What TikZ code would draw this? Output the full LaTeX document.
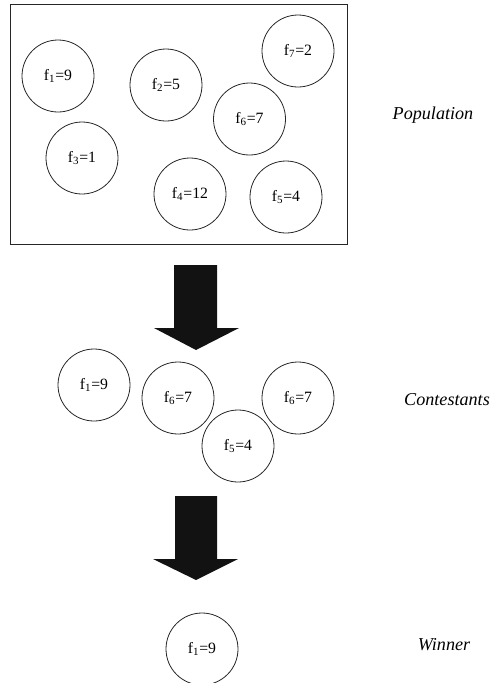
\documentclass[tikz,border=0pt]{standalone}
\usepackage{fontspec}
\setmainfont{Liberation Serif}
\begin{document}
\begin{tikzpicture}[x=0.75pt,y=-0.75pt,
  indiv/.style={circle,draw=black!85,line width=0.6pt,minimum size=54pt,inner sep=0pt,font=\fontsize{11.8}{14}\selectfont},
  stage/.style={font=\fontsize{13.6}{16}\selectfont\itshape},
  bigarrow/.style={fill=black!93,draw=none}]
\useasboundingbox (0,0) rectangle (492,683);
\clip (0,0) rectangle (492,683);
% population box
\draw[line width=0.6pt,draw=black!85] (10,4) rectangle (347,244);
\node[indiv] (p1) at (58,76) {f\textsubscript{1}=9};
\node[indiv] (p2) at (166,85) {f\textsubscript{2}=5};
\node[indiv] (p7) at (298,51) {f\textsubscript{7}=2};
\node[indiv] (p6) at (249.5,119) {f\textsubscript{6}=7};
\node[indiv] (p3) at (82,158) {f\textsubscript{3}=1};
\node[indiv] (p4) at (190,194) {f\textsubscript{4}=12};
\node[indiv] (p5) at (286,197) {f\textsubscript{5}=4};
\node[stage] (pop) at (433,115) {Population};
% arrow 1
\fill[bigarrow] (174,265) -- (217,265) -- (217,328) -- (239,328) -- (196,350) -- (154,328) -- (174,328) -- cycle;
% contestants
\node[indiv] (c1) at (94,385) {f\textsubscript{1}=9};
\node[indiv] (c6a) at (178,398) {f\textsubscript{6}=7};
\node[indiv] (c6b) at (298,398) {f\textsubscript{6}=7};
\node[indiv] (c5) at (238,446) {f\textsubscript{5}=4};
\node[stage] (con) at (447,400) {Contestants};
% arrow 2
\fill[bigarrow] (175,496) -- (217,496) -- (217,559) -- (238,559) -- (196,580) -- (153,559) -- (175,559) -- cycle;
% winner
\node[indiv] (w) at (202,649) {f\textsubscript{1}=9};
\node[stage] (win) at (444,645) {Winner};
\end{tikzpicture}
\end{document}
